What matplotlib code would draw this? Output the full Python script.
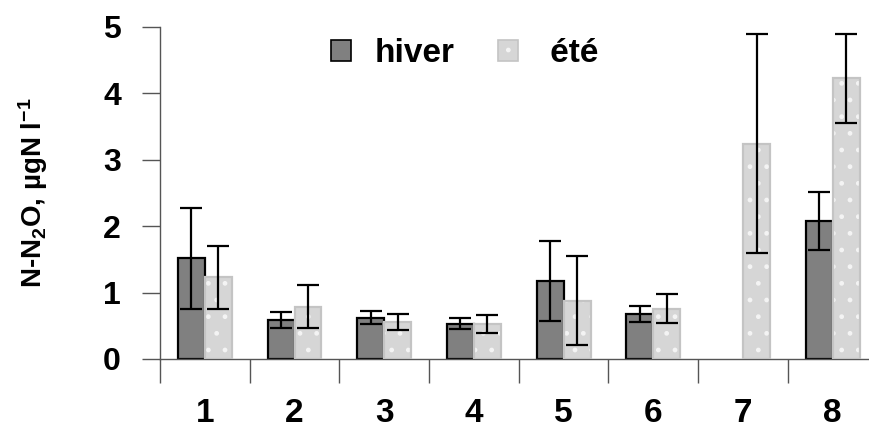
import matplotlib
matplotlib.use('Agg')
import matplotlib.pyplot as plt
import numpy as np
from matplotlib.patches import Patch

categories = ['1', '2', '3', '4', '5', '6', '7', '8']
hiver = [1.52, 0.59, 0.62, 0.53, 1.17, 0.68, np.nan, 2.08]
hiver_err = [0.76, 0.12, 0.10, 0.08, 0.60, 0.12, np.nan, 0.44]
ete = [1.23, 0.79, 0.56, 0.53, 0.88, 0.76, 3.24, 4.23]
ete_err = [0.47, 0.32, 0.12, 0.135, 0.67, 0.22, 1.65, 0.67]

plt.rcParams['font.family'] = ['Liberation Sans', 'DejaVu Sans']
plt.rcParams['font.weight'] = 'bold'
plt.rcParams['mathtext.fontset'] = 'custom'
plt.rcParams['mathtext.rm'] = 'Liberation Sans:bold'
plt.rcParams['mathtext.bf'] = 'Liberation Sans:bold'
plt.rcParams['mathtext.it'] = 'Liberation Sans:bold'
plt.rcParams['hatch.linewidth'] = 1.0

fig = plt.figure(figsize=(8.69, 4.28), dpi=100)
ax = fig.add_axes([160/869, 1-359/428, 717.6/869, 332/428])

x = np.arange(1, len(categories)+1)
w = 0.3
dark = '#808080'
light = '#d6d6d6'
light_edge = '#c4c4c4'

ax.bar(x - w/2, hiver, w, color=dark, edgecolor='black', linewidth=1.6, zorder=2)
ax.bar(x + w/2, ete, w, color=light, edgecolor='#f4f4f4', hatch='.', linewidth=0, zorder=2)
ax.bar(x + w/2, ete, w, fill=False, edgecolor=light_edge, linewidth=1.6, zorder=3)

ax.errorbar(x - w/2, hiver, yerr=hiver_err, fmt='none', ecolor='black',
            elinewidth=1.6, capsize=8, capthick=1.6, zorder=4)
ax.errorbar(x + w/2, ete, yerr=ete_err, fmt='none', ecolor='black',
            elinewidth=1.6, capsize=8, capthick=1.6, zorder=4)

ax.set_xlim(0.5, len(categories)+0.5)
ax.set_ylim(0, 5)
ax.set_yticks([0, 1, 2, 3, 4, 5])
ax.set_xticks(x)
ax.set_xticklabels(categories, fontsize=24, fontweight='bold')
ax.set_xticks(np.arange(0.5, len(categories)+1, 1), minor=True)
ax.tick_params(axis='x', which='major', length=0, pad=28)
ax.tick_params(axis='x', which='minor', length=17, width=1, color='#555555', direction='out')
ax.tick_params(axis='y', length=13, width=1, color='#555555', direction='out', pad=15,
               labelsize=23)
for lbl in ax.get_yticklabels():
    lbl.set_fontweight('bold')

for s in ['top', 'right']:
    ax.spines[s].set_visible(False)
for s in ['left', 'bottom']:
    ax.spines[s].set_color('#555555')
    ax.spines[s].set_linewidth(1)

ax.set_ylabel('N-N$_2$O, µgN l$^{-1}$', fontsize=20, fontweight='bold', labelpad=38)

h1 = Patch(facecolor=dark, edgecolor='black', linewidth=1.2)
h2a = Patch(facecolor=light, edgecolor='#f4f4f4', hatch='.', linewidth=0)
h2b = Patch(fill=False, edgecolor=light_edge, linewidth=1.2)
leg = ax.legend([h1, (h2a, h2b)], ['hiver', ' été'], loc='center',
                bbox_to_anchor=(0.425, 0.92), ncol=2, frameon=False,
                prop={'size': 24, 'weight': 'bold'}, handlelength=0.6,
                handleheight=0.6, handletextpad=0.7, columnspacing=1.3)

fig.savefig('out.png', dpi=100)
